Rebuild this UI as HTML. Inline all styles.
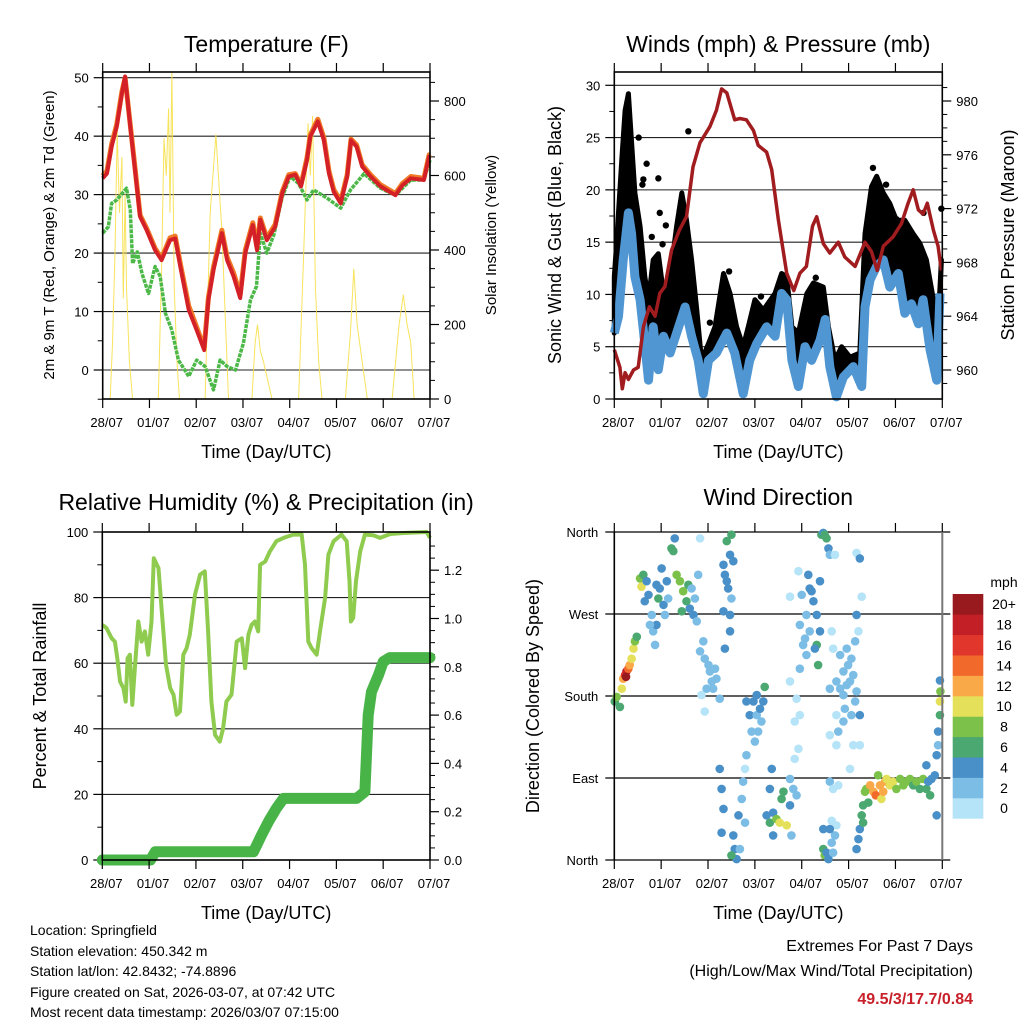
<!DOCTYPE html>
<html><head><meta charset="utf-8"><style>
html,body{margin:0;padding:0;background:#fff;}
svg{display:block;font-family:"Liberation Sans",Arial,sans-serif;}
</style></head><body>
<svg id="root" width="1024" height="1024" viewBox="0 0 1024 1024" xmlns="http://www.w3.org/2000/svg">
<rect width="1024" height="1024" fill="#fff"/>
<g id="p1"></g>
<g id="p2"></g>
<g id="p3"></g>
<g id="p4"></g>
<g id="txt">
<text x="30" y="935" font-size="14">Location: Springfield</text>
<text x="30" y="956" font-size="14">Station elevation: 450.342 m</text>
<text x="30" y="976" font-size="14">Station lat/lon: 42.8432; -74.8896</text>
<text x="30" y="997" font-size="14">Figure created on Sat, 2026-03-07, at 07:42 UTC</text>
<text x="30" y="1017" font-size="14">Most recent data timestamp: 2026/03/07 07:15:00</text>
<text x="973" y="951" font-size="16" text-anchor="end">Extremes For Past 7 Days</text>
<text x="973" y="976" font-size="16" text-anchor="end">(High/Low/Max Wind/Total Precipitation)</text>
<text x="973" y="1004" font-size="16" font-weight="bold" fill="#c8202a" text-anchor="end">49.5/3/17.7/0.84</text>
</g>
</svg>
<script>
// ---------- data ----------
const dayLabels=["28/07","01/07","02/07","03/07","04/07","05/07","06/07","07/07"];
const tempDays=[0,.09,.19,.3,.41,.48,.59,.69,.8,.94,1.12,1.26,1.44,1.55,1.66,1.84,2.01,2.17,2.26,2.37,2.55,2.66,2.8,2.94,3.05,3.21,3.3,3.37,3.51,3.69,3.84,3.98,4.12,4.24,4.37,4.44,4.6,4.73,4.84,4.94,5.09,5.23,5.31,5.43,5.55,5.73,5.94,6.26,6.41,6.59,6.87,6.98,7];
const temp2m=[32.8,33.6,38.2,41.6,47.3,50.2,41.6,34.2,26.2,23.9,20.5,18.8,22.2,22.5,17.7,10.3,6.8,3.4,12,17.1,23.4,18.8,16,12.3,20,24.8,20.5,25.7,22.2,24.5,30.2,33.1,33.4,31.4,35.9,39.9,42.5,39.3,33.6,30.5,28.5,33.1,39.3,38.2,34.8,33.1,31.4,29.9,31.6,32.8,32.5,36.5,36.5];
const temp9m=[33.2,34,38.6,42,47.6,50,41.9,34.6,26.5,24.2,20.8,19.1,22.6,22.9,18.2,11,7.3,3.8,12.4,17.6,23.9,19.3,16.6,12.9,20.5,25.2,21,26,22.6,24.9,30.5,33.4,33.6,31.7,36.3,40.2,42.9,39.7,34,30.9,28.9,33.4,39.5,38.5,35.1,33.4,31.7,30.2,31.9,33.1,32.8,36.8,36.8];
const tdDays=[0,.12,.19,.3,.51,.59,.64,.74,.84,.98,1.12,1.23,1.34,1.48,1.62,1.84,2.01,2.19,2.37,2.51,2.66,2.84,3.01,3.16,3.29,3.37,3.51,3.66,3.84,4.01,4.19,4.37,4.51,4.8,5.09,5.3,5.59,5.94,6.26,6.59,6.87,7];
const dewpoint=[23.4,24.5,28.5,29.1,31.1,27.4,18.2,20.2,16.5,13.1,17.7,16,9.7,6.8,1.7,-1.1,1.7,.6,-3.4,1.7,.6,0,4.6,12,14.3,23.4,20,23.1,29.6,33.1,31.9,29.1,30.8,29.4,27.7,30.8,33.6,31.1,29.9,32.5,32.5,35.9];
const solarDays=[0,.16,.21,.26,.31,.36,.41,.44,.48,.51,.57,.64,1.19,1.26,1.31,1.36,1.41,1.44,1.48,1.53,1.59,1.64,2.19,2.3,2.42,2.55,2.69,3.19,3.26,3.31,3.37,3.44,3.62,4.19,4.3,4.39,4.44,4.49,4.55,4.62,4.69,5.19,5.3,5.37,5.44,5.55,5.66,6.19,6.34,6.43,6.51,6.59,6.66,7];
const solar=[0,0,150,380,720,500,650,270,550,300,100,0,0,350,700,600,780,500,880,300,100,0,0,500,710,450,0,0,150,200,130,100,0,0,400,740,600,760,300,100,0,0,180,350,200,100,0,0,200,280,200,150,0,0];

const presDays=[0,.12,.17,.23,.3,.41,.51,.62,.75,.87,.97,1.08,1.22,1.39,1.54,1.68,1.83,2.04,2.18,2.29,2.4,2.57,2.68,2.82,2.97,3.07,3.25,3.36,3.5,3.68,3.83,3.96,4.1,4.23,4.32,4.46,4.6,4.78,4.92,5.14,5.35,5.49,5.61,5.74,5.95,6.13,6.27,6.38,6.49,6.59,6.68,6.81,6.91,6.98];
const pressure=[961.5,960.2,958.6,959.8,959.3,960,960.2,963.2,964.7,964,965.7,966.2,968.9,970.4,971.4,975.1,976.9,978.1,979.3,980.9,980.6,978.6,978.7,978.6,977.8,976.7,976.2,974.9,971.2,967.2,965.9,967.2,967.7,970.7,971.4,969.4,968.7,969.5,968.4,967.7,969.5,968.8,967.4,969.2,969.9,970.9,972.4,973.4,971.9,971.6,972.4,970.4,969.2,967.4];
const windDays=[0,.09,.19,.3,.37,.44,.55,.65,.73,.83,.94,1.05,1.19,1.33,1.51,1.65,1.79,1.9,2.01,2.18,2.4,2.57,2.75,2.89,3.04,3.25,3.43,3.57,3.68,3.79,3.93,4.07,4.21,4.39,4.5,4.6,4.74,4.89,5.1,5.28,5.35,5.46,5.6,5.74,5.88,6.06,6.2,6.34,6.49,6.59,6.74,6.88,6.95];
const windSpeed=[6.3,7.9,13.3,17.8,15.8,11.7,9.5,5.3,1.8,6.9,2.8,6,4.4,6.3,8.8,6,3.7,.5,3.7,4.4,6.3,4.4,.5,3.7,5.3,6.9,6,10.1,9.5,3.7,1.2,5,3.7,5.6,7.6,3.1,.2,2.1,3.1,1.2,8.8,11.4,12.7,13.3,10.7,12,8.2,9.1,7.2,9.5,4.7,1.8,10.1];
const gustDays=[0,.05,.16,.23,.3,.37,.44,.55,.65,.73,.83,.94,1.05,1.19,1.33,1.44,1.54,1.65,1.76,1.86,2.01,2.15,2.33,2.47,2.61,2.75,2.86,3,3.18,3.43,3.57,3.68,3.79,3.93,4.11,4.25,4.46,4.57,4.71,4.85,5.03,5.24,5.35,5.49,5.6,5.74,5.88,6.02,6.2,6.38,6.52,6.66,6.81,6.89,6.98];
const gustHigh=[11.7,14.9,22.9,27.6,29.2,24.5,19.7,16.5,11.7,9.5,13.3,13.9,10.1,11.7,16.5,19.7,17.1,13.3,8.5,3.7,5.3,6.9,12,10.1,6.9,5,6.9,9.5,8.5,10.1,12,11.7,6.9,6.3,10.1,11.1,10.7,6.9,3.7,5,4,4.4,15.8,20.3,21.3,19.7,18.7,17.1,17.1,15.8,14.9,13.3,9.5,5.3,13.3];
const gustOutDays=[1.58,.94,.97,.69,6.98,.6,2.04,3.6,5.52,6.02,1.1,.52,.62,.8,1.03,1.4,2.45,3.13,4.3,5.8,6.3,6.6];
const gustOutVal=[25.6,21.1,17.8,22.5,18.2,20.5,7.3,11.3,22.1,17.2,16.6,25,21,15.5,14.8,18,12.2,9.8,11.6,20.5,16,17.8];

const rhDays=[0,.09,.2,.27,.32,.38,.45,.5,.54,.59,.64,.7,.77,.84,.91,.98,1.05,1.1,1.2,1.27,1.36,1.45,1.52,1.59,1.66,1.73,1.8,1.87,1.98,2.09,2.19,2.26,2.33,2.41,2.51,2.58,2.65,2.76,2.87,2.98,3.05,3.12,3.19,3.26,3.33,3.37,3.48,3.58,3.72,3.87,4.08,4.26,4.33,4.4,4.47,4.58,4.65,4.76,4.83,4.94,5.11,5.22,5.28,5.31,5.36,5.42,5.51,5.61,5.79,5.93,6.15,6.43,6.93,7];
const rh=[71.7,70.7,67.6,66.6,61.5,54.4,52.4,48.3,61.5,62.6,47.3,59.5,72.7,66.6,69.7,62.6,72.7,92,89,75.8,59.5,52.4,50.4,44.3,45.3,62.6,64.6,68.7,80.9,87,88,69.7,48.3,38.1,36.1,40.1,48.3,50.4,66.6,67.6,58.5,68.7,71.7,72.7,69.7,90,91,94.1,97.2,98.2,99.2,99.2,90,66.6,64.6,62.6,69.7,79.9,93.1,97.2,99.2,97.2,85,72.7,73.8,85,94.1,99.2,99,98.2,99.4,99.7,100,98.2];
const rainDays=[0,1.03,1.13,3.23,3.4,3.55,3.72,3.87,5.43,5.61,5.68,5.75,5.9,6,6.14,7];
const rain=[0,0,.034,.034,.103,.159,.214,.255,.255,.283,.6,.697,.766,.821,.838,.838];

const dirDays=[.01,.05,.12,.16,.19,.23,.26,.3,.33,.37,.41,.44,.48,.25,
.55,.58,.62,.69,.73,.65,.8,.83,.87,.9,.94,.97,1.01,1.05,1.08,1.12,1.15,.9,.76,1.22,1.26,1.29,1.33,1.4,1.47,1.54,1.61,1.69,1.76,1.44,1.58,1.65,1.72,1.79,1.83,
1.9,1.93,2.01,2.04,2.08,2.11,2.15,1.97,2.18,1.86,1.93,2.25,1.83,
2.33,2.36,2.4,2.43,2.47,2.5,2.33,2.47,2.4,2.5,2.36,2.47,2.54,
2.25,2.29,2.33,2.29,2.54,2.57,2.61,2.65,2.72,2.75,2.68,2.79,2.5,
2.82,2.89,2.97,3.04,3.11,3.18,2.93,3,3.07,3.14,3.04,3.21,2.82,2.79,
3.25,3.32,3.39,3.46,3.53,3.57,3.61,3.68,3.75,3.36,3.32,3.75,3.82,3.78,3.39,3.89,3.85,
3.75,3.89,3.85,3.93,3.96,3.96,4.03,4.1,4.17,4.1,3.96,4.14,4.17,4.21,4.25,4.32,4.39,4.39,4.07,4.32,4.35,4.28,4,3.75,3.93,
4.42,4.46,4.49,4.53,4.57,4.6,4.71,
4.46,4.49,4.53,4.57,4.64,4.67,4.71,4.74,4.6,4.46,4.6,4.67,4.78,4.64,
4.74,4.82,4.89,4.96,5.03,4.89,4.99,5.1,5.14,5.17,4.92,5.06,4.6,4.67,4.82,4.96,5.06,5.14,5.17,5.21,5.28,5.17,5.24,4.64,4.74,4.78,4.89,5.1,5.24,5.03,4.74,5.24,4.6,
5.17,5.21,5.24,5.28,5.31,5.35,5.38,5.42,5.46,5.53,5.58,5.63,5.67,5.7,5.74,5.78,5.81,5.88,5.95,6.02,6.1,6.17,6.24,6.31,6.38,6.45,6.52,6.59,6.66,6.74,6.7,6.77,6.84,6.88,6.91,6.88,6.91,6.95,6.96,6.95,6.95,6.66,5.31];
const dirDeg=[174,179,168,188,199,203,207,210,214,221,232,240,245,201,
309,300,313,306,291,284,269,251,236,302,287,298,320,280,269,306,287,258,258,342,339,353,313,306,295,284,276,269,262,273,302,298,287,313,353,
240,221,214,207,196,188,210,188,199,181,163,177,229,
324,313,306,298,335,287,273,269,350,357,232,251,328,
100,78,56,30,27,12,1,49,67,86,12,41,5,
174,159,174,159,166,174,141,130,141,152,181,190,115,100,
49,41,52,45,41,67,75,38,60,100,78,89,78,27,27,71,111,
196,177,152,122,159,210,236,225,251,269,258,313,298,295,284,269,251,306,243,236,214,232,291,289,317,
357,359,357,353,342,335,335,
12,5,8,1,19,8,27,38,34,34,86,78,82,43,
196,188,181,192,196,207,214,203,174,185,166,159,188,232,225,232,221,240,269,251,289,337,331,251,159,141,152,126,126,100,126,159,137,
12,23,34,49,60,75,78,63,82,75,71,93,82,67,75,86,89,82,86,78,89,82,86,89,82,86,78,89,78,71,86,89,93,115,141,49,126,174,185,159,197,104,41];
const dirSpeed=[7,9,7,11,13,16,18,14,12,11,10,8,7,20,
8,10,7,4,4,4,3,3,2,4,6,5,4,4,3,4,3,4,3,6,6,4,8,8,8,6,4,4,3,6,6,3,3,2,1,
2,2,2,2,2,2,2,2,2,1,1,2,2,
4,4,5,4,4,3,4,4,6,7,4,4,4,
4,4,4,4,4,4,4,4,3,2,3,2,6,
4,4,4,3,4,4,3,3,3,3,4,6,2,1,
4,6,4,8,10,6,6,10,4,4,4,3,3,3,4,2,1,
1,1,1,1,1,2,2,2,3,2,2,4,4,4,4,4,4,4,3,6,6,4,2,1,1,
6,4,6,6,4,2,1,
6,8,4,4,2,2,2,1,4,4,2,1,1,1,
2,2,2,3,2,2,2,2,2,2,2,2,2,1,2,2,2,2,4,1,1,1,4,1,1,2,2,1,1,1,1,4,1,
4,4,4,6,6,8,8,6,12,12,14,8,12,10,12,12,10,10,10,8,8,8,8,8,6,8,6,8,6,6,4,4,4,4,4,4,2,10,8,6,4,4,6];
const speedBins=["0","2","4","6","8","10","12","14","16","18","20+"];
const speedColors=["#b5e3f7","#7cbde6","#4a90c8","#4aa870","#7cc24a","#e5e05a","#f9a948","#f26a2b","#e0362c","#c21f26","#991a1e"];

// ---------- helpers ----------
const NS="http://www.w3.org/2000/svg";
function mk(tag,attrs,parent){const e=document.createElementNS(NS,tag);for(const k in attrs)e.setAttribute(k,attrs[k]);parent.appendChild(e);return e;}
function lin(d0,d1,r0,r1){return v=>r0+(v-d0)*(r1-r0)/(d1-d0);}
function pathOf(xs,ys,fx,fy){return xs.map((d,i)=>(i?"L":"M")+fx(d).toFixed(1)+","+fy(ys[i]).toFixed(1)).join("");}
function txt(parent,x,y,s,size,anchor,rot){const e=mk("text",{x:x,y:y,"font-size":size,"text-anchor":anchor||"middle"},parent);if(rot)e.setAttribute("transform","rotate(-90 "+x+" "+y+")");e.textContent=s;return e;}

function frame(g,L,R,T,B,fx,title,ty){
  const t=txt(g,(L+R)/2,ty,title,23);
  
  
  for(let d=0;d<=7;d++){
    const x=fx(d);
    const a=mk("line",{x1:x,x2:x,y1:T,y2:T-9,stroke:"#000","stroke-width":1.2},g);
    
    
    const b=mk("line",{x1:x,x2:x,y1:B,y2:B+9,stroke:"#000","stroke-width":1.2},g);
    
    
    const l=txt(g,x+4,B+28,dayLabels[d],13);
    
    
  }
  const xt=txt(g,(L+R)/2,B+59,"Time (Day/UTC)",18);
  
  
}
function box(g,L,R,T,B){
  const r=mk("rect",{x:L,y:T,width:R-L,height:B-T,fill:"none",stroke:"#000","stroke-width":1.6},g);
  
  
}
function yAxis(g,vals,labels,fy,x,side,minor,L,R,grid){
  vals.forEach((v,i)=>{
    const y=fy(v);
    if(grid){const gl=mk("line",{x1:L,x2:R,y1:y,y2:y,stroke:"#222","stroke-width":1.1},g);
      
      }
    const tk=mk("line",{x1:x,x2:x+side*9,y1:y,y2:y,stroke:"#000","stroke-width":1.2},g);
    
    
    const lb=txt(g,x+side*14,y+5,labels[i],13,side<0?"end":"start");
    
    
  });
  (minor||[]).forEach(v=>{const y=fy(v);
    const m=mk("line",{x1:x,x2:x+side*5,y1:y,y2:y,stroke:"#000","stroke-width":1},g);
    
    });
}

// ---------- Panel 1 ----------
(function(){
  const g=document.getElementById("p1");
  const L=102.7,R=430,T=72,B=399;
  const fx=lin(0,7,L,R), fy=lin(0,50,370,77.7), fs=lin(0,800,399,101);
  yAxis(g,[0,10,20,30,40,50],["0","10","20","30","40","50"],fy,L,-1,[-5,5,15,25,35,45],L,R,true);
  yAxis(g,[0,200,400,600,800],["0","200","400","600","800"],fs,R,1,[50,100,150,250,300,350,450,500,550,650,700,750,850],L,R,false);
  const s=mk("path",{d:pathOf(solarDays,solar,fx,fs),fill:"none",stroke:"#f7e04a","stroke-width":1,"stroke-opacity":.9},g);
  
  
  const td=mk("path",{d:pathOf(tdDays,dewpoint,fx,fy),fill:"none",stroke:"#4cb848","stroke-width":3.5,"stroke-dasharray":"4 1","stroke-linejoin":"round"},g);
  
  
  const o=mk("path",{d:pathOf(tempDays,temp9m,fx,fy),fill:"none",stroke:"#f07a26","stroke-width":5,"stroke-linejoin":"round"},g);
  
  
  const r=mk("path",{d:pathOf(tempDays,temp2m,fx,fy),fill:"none",stroke:"#d42027","stroke-width":4,"stroke-linejoin":"round"},g);
  
  
  box(g,L,R,T,B);
  frame(g,L,R,T,B,fx,"Temperature (F)",52);
  const a=txt(g,54,235,"2m & 9m T (Red, Orange) & 2m Td (Green)",15,"middle",true);
  
  
  const b=txt(g,496,235,"Solar Insolation (Yellow)",15,"middle",true);
  
  
})();

// ---------- Panel 2 ----------
(function(){
  const g=document.getElementById("p2");
  const L=614.3,R=942.3,T=72,B=399;
  const fx=lin(0,7,L,R), fy=lin(0,30,399,85.3), fp=lin(960,980,370,101);
  yAxis(g,[0,5,10,15,20,25,30],["0","5","10","15","20","25","30"],fy,L,-1,[2.5,7.5,12.5,17.5,22.5,27.5],L,R,true);
  const pm=[];for(let p=959;p<=981;p++)if(p%4)pm.push(p);
  yAxis(g,[960,964,968,972,976,980],["960","964","968","972","976","980"],fp,R,1,pm,L,R,false);
  let d=pathOf(gustDays,gustHigh,fx,fy);
  for(let i=windDays.length-1;i>=0;i--)d+="L"+fx(windDays[i]).toFixed(1)+","+fy(windSpeed[i]).toFixed(1);
  const band=mk("path",{d:d+"Z",fill:"#000",stroke:"#000","stroke-width":5,"stroke-linejoin":"round"},g);
  
  
  gustOutDays.forEach((dd,i)=>{
    const c=mk("circle",{cx:fx(dd),cy:fy(gustOutVal[i]),r:3.2,fill:"#000"},g);
    
    
  });
  const w=mk("path",{d:pathOf(windDays,windSpeed,fx,fy),fill:"none",stroke:"#4f96d2","stroke-width":9,"stroke-linejoin":"round"},g);
  
  
  const p=mk("path",{d:pathOf(presDays,pressure,fx,fp),fill:"none",stroke:"#a01c1f","stroke-width":3.5,"stroke-linejoin":"round"},g);
  
  
  box(g,L,R,T,B);
  frame(g,L,R,T,B,fx,"Winds (mph) & Pressure (mb)",52);
  const a=txt(g,561,235,"Sonic Wind & Gust (Blue, Black)",18,"middle",true);
  
  
  const b=txt(g,1014,235,"Station Pressure (Maroon)",18,"middle",true);
  
  
})();

// ---------- Panel 3 ----------
(function(){
  const g=document.getElementById("p3");
  const L=102.3,R=430,T=532,B=860;
  const fx=lin(0,7,L,R), fy=lin(0,100,860,532), fr=lin(0,.2,860,811.7);
  yAxis(g,[0,20,40,60,80,100],["0","20","40","60","80","100"],fy,L,-1,[10,30,50,70,90],L,R,true);
  yAxis(g,[0,.2,.4,.6,.8,1,1.2],["0.0","0.2","0.4","0.6","0.8","1.0","1.2"],fr,R,1,[.05,.1,.15,.25,.3,.35,.45,.5,.55,.65,.7,.75,.85,.9,.95,1.05,1.1,1.15,1.25,1.3],L,R,false);
  const h=mk("path",{d:pathOf(rhDays,rh,fx,fy),fill:"none",stroke:"#8fcb4f","stroke-width":4,"stroke-linejoin":"round"},g);
  
  
  const r=mk("path",{d:pathOf(rainDays,rain,fx,fr),fill:"none",stroke:"#48b447","stroke-width":11,"stroke-linejoin":"round","stroke-linecap":"round"},g);
  
  
  box(g,L,R,T,B);
  frame(g,L,R,T,B,fx,"Relative Humidity (%) & Precipitation (in)",510);
  const a=txt(g,46,696,"Percent & Total Rainfall",18,"middle",true);
  
  
})();

// ---------- Panel 4 ----------
(function(){
  const g=document.getElementById("p4");
  const L=614.3,R=942.3,T=532,B=860;
  const fx=lin(0,7,L,R), fy=lin(0,360,860,532);
  [0,90,180,270,360].forEach((v,i)=>{
    const y=fy(v);
    const gl=mk("line",{x1:L-9,x2:R+8,y1:y,y2:y,stroke:"#000","stroke-width":1.2},g);
    
    
    const lb=txt(g,L-16,y+5,["North","East","South","West","North"][i],13,"end");
    
    
  });
  dirDays.forEach((d,i)=>{
    const k=Math.min(10,Math.floor(dirSpeed[i]/2));
    const c=mk("circle",{cx:fx(d),cy:fy(dirDeg[i]),r:4.3,fill:speedColors[k]},g);
    
    
  });
  const lr=mk("line",{x1:L,x2:L,y1:T,y2:B,stroke:"#000","stroke-width":1.6},g);
  
  
  const rr=mk("line",{x1:R,x2:R,y1:T,y2:B,stroke:"#777","stroke-width":2},g);
  
  
  frame(g,L,R,T,B,fx,"Wind Direction",505);
  const a=txt(g,539,696,"Direction (Colored By Speed)",18,"middle",true);
  
  
  const cb=mk("g",{},g);
  
  
  const mt=txt(cb,1004,587,"mph",14);
  
  
  const top=594,hgt=20.4;
  for(let i=0;i<speedBins.length;i++){
    const y=top+(10-i)*hgt;
    const r=mk("rect",{x:952.7,y:y,width:30.6,height:hgt+0.3,fill:speedColors[i]},cb);
    
    
    const l=txt(cb,1004,y+hgt/2+5,speedBins[i],14);
    
    
  }
})();
</script>
</body></html>
